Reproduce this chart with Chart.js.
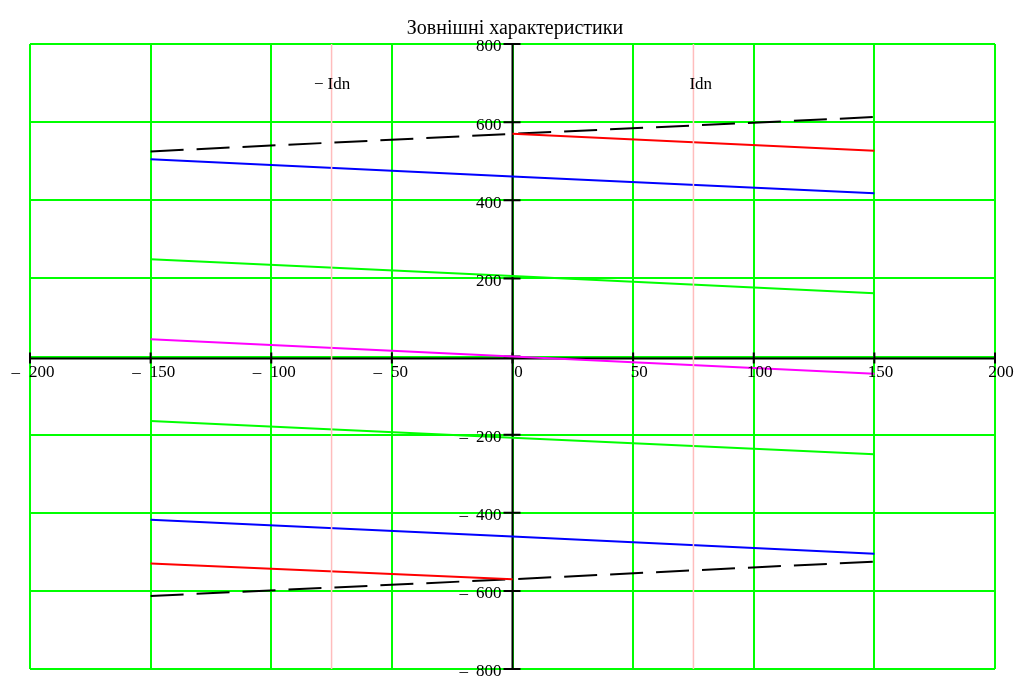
<!DOCTYPE html>
<html>
<head>
<meta charset="utf-8">
<script src="https://cdn.jsdelivr.net/npm/chart.js@4/dist/chart.umd.min.js"></script>
<style>
  html, body { margin: 0; padding: 0; background: #ffffff; }
  #wrap { width: 1018px; height: 676px; }
</style>
</head>
<body>
<div id="wrap"><canvas id="c" width="1018" height="676"></canvas></div>
<script>
// Load current (A) on the x axis, voltage (V) on the y axis
const chartTitle = 'Зовнішні характеристики';
const xTicks = [-200, -150, -100, -50, 0, 50, 100, 150, 200];
const yTicks = [-800, -600, -400, -200, 0, 200, 400, 600, 800];

const currentFull = [-150, 0, 150];
const currentPos = [0, 150];
const currentNeg = [-150, 0];

const blackUpper = [525, 570, 613];
const redUpper = [570, 527];
const blueUpper = [505, 461, 418];
const greenUpper = [249, 206, 162];
const magentaMid = [44, 0, -44];
const greenLower = [-165, -208, -250];
const blueLower = [-418, -461, -505];
const redLower = [-530, -570];
const blackLower = [-613, -570, -525];

const idn = 75;            // rated current marker
const idnLabel = 'Idn';

function pts(xs, ys) { return xs.map((x, i) => ({ x: x, y: ys[i] })); }

function line(data, color, dash, width) {
  return {
    data: data,
    borderColor: color,
    backgroundColor: color,
    borderWidth: width || 2,
    borderDash: dash || [],
    pointRadius: 0,
    showLine: true,
    fill: false,
    tension: 0
  };
}

const markerColor = '#ffbdbd';
const datasets = [
  line(pts([-idn, -idn], [-800, 800]), markerColor, [], 1.5),
  line(pts([idn, idn], [-800, 800]), markerColor, [], 1.5),
  line(pts(currentFull, greenUpper), '#00ff00'),
  line(pts(currentFull, greenLower), '#00ff00'),
  line(pts(currentFull, magentaMid), '#ff00ff'),
  line(pts(currentFull, blueUpper), '#0000ff'),
  line(pts(currentFull, blueLower), '#0000ff'),
  line(pts(currentPos, redUpper), '#ff0000'),
  line(pts(currentNeg, redLower), '#ff0000'),
  line(pts(currentFull, blackUpper), '#000000', [33, 13]),
  line(pts(currentFull, blackLower), '#000000', [33, 13])
];

const serif = '"Liberation Serif", "Times New Roman", serif';
const minus = '\u2013';

function fmtDigits(v) { return String(Math.abs(v)); }

// Axes through the origin, tick marks, tick labels and captions
const axesPlugin = {
  id: 'axesPlugin',
  beforeDatasetsDraw(chart) {
    const ctx = chart.ctx;
    const xs = chart.scales.x, ys = chart.scales.y;
    const x0 = xs.getPixelForValue(0), y0 = ys.getPixelForValue(0);
    const a = chart.chartArea;
    ctx.save();
    ctx.strokeStyle = '#000000';
    ctx.lineWidth = 2;
    ctx.beginPath();
    ctx.moveTo(a.left, y0 + 2); ctx.lineTo(a.right, y0 + 2);
    ctx.moveTo(x0, a.top); ctx.lineTo(x0, a.bottom);
    ctx.stroke();
    ctx.beginPath();
    xTicks.forEach(v => {
      const px = xs.getPixelForValue(v);
      ctx.moveTo(px, y0 - 4); ctx.lineTo(px, y0 + 7);
    });
    yTicks.forEach(v => {
      const py = ys.getPixelForValue(v);
      ctx.moveTo(x0 - 9, py); ctx.lineTo(x0 + 8, py);
    });
    ctx.stroke();
    ctx.restore();
  },
  afterDraw(chart) {
    const ctx = chart.ctx;
    const xs = chart.scales.x, ys = chart.scales.y;
    const x0 = xs.getPixelForValue(0), y0 = ys.getPixelForValue(0);
    ctx.save();
    ctx.fillStyle = '#000000';

    ctx.font = '20px ' + serif;
    ctx.textAlign = 'center';
    ctx.textBaseline = 'alphabetic';
    ctx.fillText(chartTitle, 515, 34);

    ctx.font = '17px ' + serif;
    ctx.textBaseline = 'middle';
    xTicks.forEach(v => {
      const px = xs.getPixelForValue(v);
      const ty = y0 + 16;
      if (v < 0) {
        ctx.textAlign = 'left';
        ctx.fillText(fmtDigits(v), px - 1, ty);
        ctx.textAlign = 'right';
        ctx.fillText(minus, px - 10, ty);
      } else {
        ctx.textAlign = 'center';
        ctx.fillText(fmtDigits(v), px + 6, ty);
      }
    });
    yTicks.forEach(v => {
      if (v === 0) return;
      const py = ys.getPixelForValue(v) + 3;
      ctx.textAlign = 'right';
      ctx.fillText(fmtDigits(v), x0 - 11, py);
      if (v < 0) {
        const w = ctx.measureText(fmtDigits(v)).width;
        ctx.fillText(minus, x0 - 11 - w - 8, py);
      }
    });

    ctx.font = '17px ' + serif;
    ctx.textBaseline = 'middle';
    const ly = 85;
    ctx.textAlign = 'left';
    ctx.fillText(idnLabel, xs.getPixelForValue(idn) - 4, ly);
    ctx.fillText(idnLabel, xs.getPixelForValue(-idn) - 4, ly);
    ctx.textAlign = 'right';
    ctx.fillText('\u2212', xs.getPixelForValue(-idn) - 8, ly);
    ctx.restore();
  }
};

new Chart(document.getElementById('c'), {
  type: 'scatter',
  data: { datasets: datasets },
  options: {
    responsive: false,
    animation: false,
    events: [],
    layout: { padding: { left: 30, right: 23, top: 44, bottom: 7 } },
    plugins: {
      legend: { display: false },
      title: { display: false },
      tooltip: { enabled: false }
    },
    scales: {
      x: {
        type: 'linear', min: -200, max: 200,
        border: { display: false },
        grid: { color: '#00ff00', lineWidth: 2, drawTicks: false },
        ticks: { display: false, stepSize: 50 }
      },
      y: {
        type: 'linear', min: -800, max: 800,
        border: { display: false },
        grid: { color: '#00ff00', lineWidth: 2, drawTicks: false },
        ticks: { display: false, stepSize: 200 }
      }
    }
  },
  plugins: [axesPlugin]
});
</script>
</body>
</html>
